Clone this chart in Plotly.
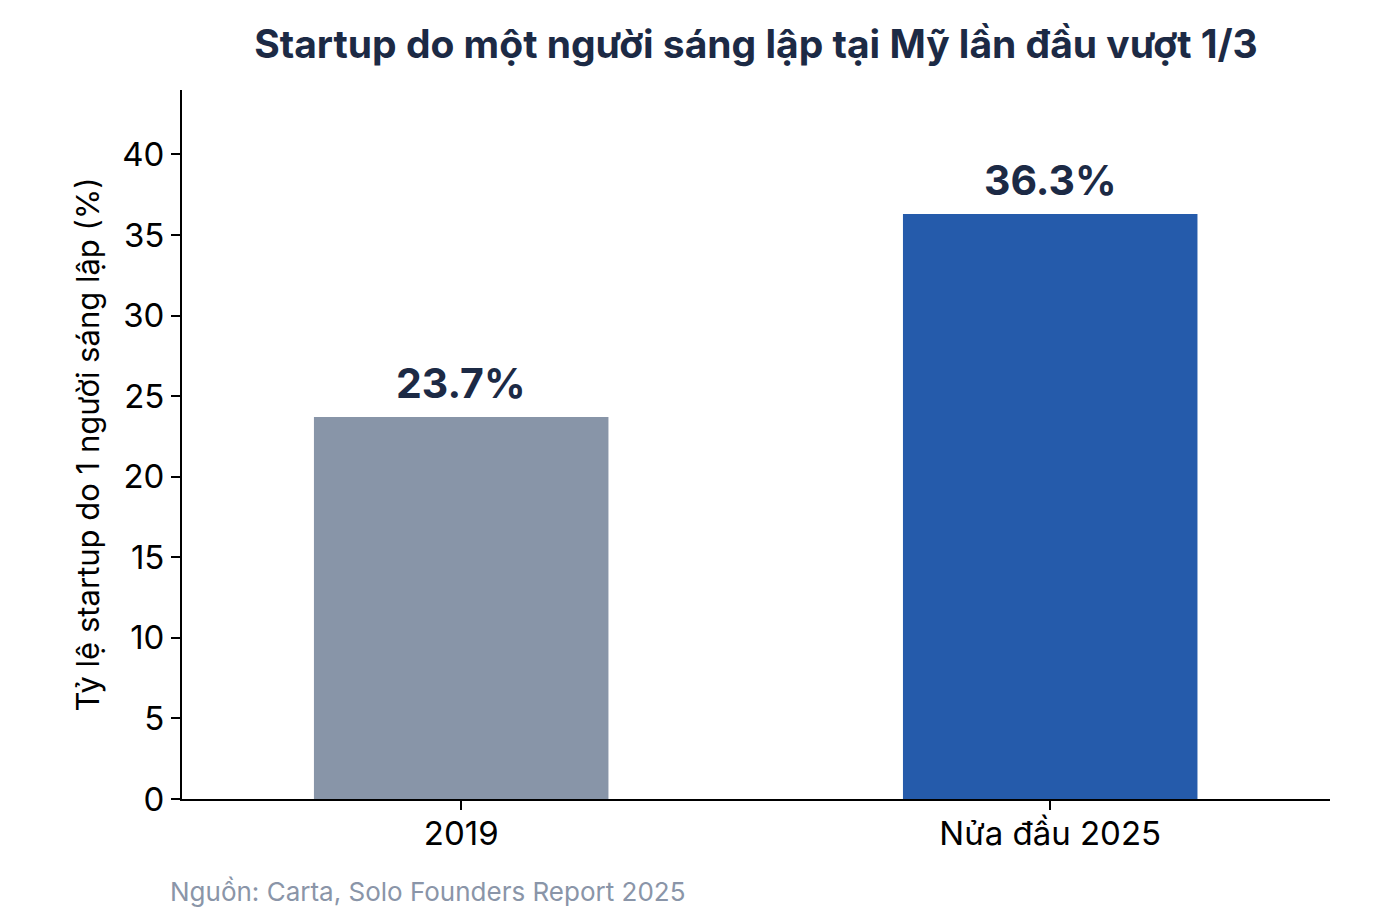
import plotly.graph_objects as go

# Data
categories = ['2019', 'Nửa đầu 2025']
values = [23.7, 36.3]
bar_colors = ['#8895a8', '#255bab']
value_labels = ['23.7%', '36.3%']
y_ticks = [0, 5, 10, 15, 20, 25, 30, 35, 40]

navy = '#1c2a45'
font_family = 'Inter, Roboto, "Noto Sans", sans-serif'

fig = go.Figure()

fig.add_trace(go.Bar(
    x=categories,
    y=values,
    marker=dict(color=bar_colors, line=dict(width=0)),
    width=0.5,
    showlegend=False,
))

# value labels above bars (category index, since "2019" would be read as a position)
for i, (val, lab) in enumerate(zip(values, value_labels)):
    fig.add_annotation(
        x=i, y=val, text=lab,
        xanchor='center', yanchor='bottom', yshift=7,
        showarrow=False,
        font=dict(family=font_family, size=41, color=navy, weight='bold'),
    )

fig.update_layout(
    width=1400,
    height=919,
    margin=dict(l=174, r=78, t=82, b=128),
    paper_bgcolor='white',
    plot_bgcolor='white',
    font=dict(family=font_family, color='black'),
    title=dict(
        text='Startup do một người sáng lập tại Mỹ lần đầu vượt 1/3',
        x=0.5, xref='paper', xanchor='center',
        y=0.960, yref='container', yanchor='middle',
        font=dict(family=font_family, size=39, color=navy, weight='bold'),
    ),
)

fig.update_xaxes(
    type='category',
    range=[-0.474, 1.475],
    showline=True, linecolor='black', linewidth=2,
    ticks='outside', ticklen=9, tickwidth=1.5, tickcolor='black',
    tickfont=dict(size=33, color='black'),
    ticklabelstandoff=-5,
    showgrid=False,
)

fig.update_yaxes(
    range=[0, 44],
    tickvals=y_ticks,
    showline=True, linecolor='black', linewidth=2,
    ticks='outside', ticklen=9, tickwidth=1.5, tickcolor='black',
    tickfont=dict(size=33, color='black'),
    showgrid=False, zeroline=False,
    title=dict(text='Tỷ lệ startup do 1 người sáng lập (%)', font=dict(size=31, color='black'), standoff=13),
)

fig.add_annotation(
    text='Nguồn: Carta, Solo Founders Report 2025',
    xref='paper', yref='paper',
    x=-0.0122, y=-0.131,
    xanchor='left', yanchor='middle',
    showarrow=False,
    font=dict(family=font_family, size=26, color='#8a95a8'),
)

fig.write_html('out.html')
